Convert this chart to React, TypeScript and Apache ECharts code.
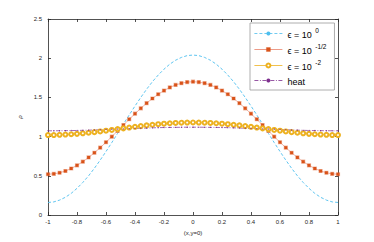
import React, { useEffect, useRef } from "react";
import * as echarts from "echarts";

const xs: number[] = Array.from({ length: 51 }, (_, i) => +(-1 + 0.04 * i).toFixed(2));

const halfEps0 = [0.16, 0.167, 0.19, 0.226, 0.276, 0.34, 0.415, 0.5, 0.596, 0.7, 0.81, 0.924, 1.041, 1.159, 1.276, 1.39, 1.5, 1.604, 1.7, 1.785, 1.86, 1.924, 1.974, 2.01, 2.033, 2.04];
const halfEpsHalf = [0.52, 0.525, 0.539, 0.561, 0.593, 0.633, 0.68, 0.734, 0.794, 0.859, 0.928, 0.999, 1.073, 1.147, 1.221, 1.292, 1.361, 1.426, 1.486, 1.54, 1.587, 1.627, 1.659, 1.681, 1.695, 1.7];
const halfEps2 = [1.02, 1.02, 1.023, 1.026, 1.03, 1.035, 1.042, 1.049, 1.057, 1.066, 1.075, 1.085, 1.095, 1.105, 1.115, 1.125, 1.134, 1.143, 1.151, 1.158, 1.165, 1.17, 1.174, 1.177, 1.179, 1.18];
const halfHeat = [1.074, 1.074, 1.075, 1.076, 1.077, 1.078, 1.08, 1.082, 1.085, 1.087, 1.09, 1.093, 1.096, 1.098, 1.101, 1.104, 1.107, 1.109, 1.112, 1.114, 1.116, 1.117, 1.118, 1.119, 1.12, 1.12];

const mirror = (h: number[]) => h.concat(h.slice(0, h.length - 1).reverse());
const eps0 = mirror(halfEps0);
const epsHalf = mirror(halfEpsHalf);
const eps2 = mirror(halfEps2);
const heat = mirror(halfHeat);

const xTicks = [-1, -0.8, -0.6, -0.4, -0.2, 0, 0.2, 0.4, 0.6, 0.8, 1];
const yTicks = [0, 0.5, 1, 1.5, 2, 2.5];

const legendNames: Record<string, string> = {
  e0: "{b|ϵ = 10}{s|  0}",
  eh: "{b|ϵ = 10}{s|  -1/2}",
  e2: "{b|ϵ = 10}{s|  -2}",
  heat: "{b|heat}",
};

export default function App() {
  const ref = useRef<HTMLDivElement>(null);
  useEffect(() => {
    const chart = echarts.init(ref.current!, null, { renderer: "svg" });
    const pts = (ys: number[]) => xs.map((x, i) => [x, ys[i]]);
    const axisCol = "#262626";
    const font = "Liberation Sans";
    const axLine = { show: true, onZero: false, lineStyle: { color: axisCol, width: 0.8 } };
    const axTick = { show: true, inside: true, length: 3, lineStyle: { color: axisCol, width: 0.8 } };
    chart.setOption({
      animation: false,
      textStyle: { fontFamily: font },
      grid: { left: 48, right: 36, top: 19, bottom: 27 },
      xAxis: [
        {
          type: "value", min: -1, max: 1, interval: 0.2,
          axisLine: axLine, axisTick: axTick,
          axisLabel: { fontSize: 6, color: axisCol, margin: 4, formatter: (v: number) => (xTicks.includes(+v.toFixed(1)) ? String(+v.toFixed(1)) : "") },
          splitLine: { show: false },
          name: "(x,y=0)", nameLocation: "middle", nameGap: 14,
          nameTextStyle: { fontSize: 6, color: axisCol },
        },
        {
          type: "value", min: -1, max: 1, interval: 0.2, position: "top",
          axisLine: axLine, axisTick: axTick,
          axisLabel: { show: false }, splitLine: { show: false },
        },
      ],
      yAxis: [
        {
          type: "value", min: 0, max: 2.5, interval: 0.5,
          axisLine: axLine, axisTick: axTick,
          axisLabel: { fontSize: 6, color: axisCol, margin: 6, formatter: (v: number) => (yTicks.includes(+v.toFixed(1)) ? String(+v.toFixed(1)) : "") },
          splitLine: { show: false },
          name: "ρ", nameLocation: "middle", nameGap: 10,
          nameTextStyle: { fontSize: 6, color: axisCol, fontStyle: "italic" },
        },
        {
          type: "value", min: 0, max: 2.5, interval: 0.5, position: "right",
          axisLine: axLine, axisTick: axTick,
          axisLabel: { show: false }, splitLine: { show: false },
        },
      ],
      legend: {
        left: 250, top: 23, orient: "vertical", itemGap: 3,
        itemWidth: 28, itemHeight: 5,
        backgroundColor: "#fff", borderColor: "#999", borderWidth: 0.8,
        padding: [4, 8, 4, 4],
        lineStyle: { width: 0.8 },
        itemStyle: { borderWidth: 0.8 },
        formatter: (n: string) => legendNames[n],
        textStyle: {
          fontSize: 9, color: "#000", fontFamily: font,
          rich: {
            b: { fontSize: 9, lineHeight: 11, padding: [2, 0, 0, 0] },
            s: { fontSize: 6.5, lineHeight: 11, padding: [0, 0, 6, 0] },
          },
        },
      },
      series: [
        {
          name: "e0", type: "line", data: pts(eps0), showSymbol: false, symbol: "none",
          lineStyle: { color: "#4DBEEE", width: 0.9, type: [3, 2] }, itemStyle: { color: "#4DBEEE" },
        },
        {
          name: "eh", type: "line", data: pts(epsHalf), symbol: "rect", symbolSize: 3,
          lineStyle: { color: "#E8826A", width: 0.6 },
          itemStyle: { color: "#D95319", borderColor: "rgba(217,83,25,0.4)", borderWidth: 1.2 },
        },
        {
          name: "e2", type: "line", data: pts(eps2), symbol: "emptyCircle", symbolSize: 4,
          lineStyle: { color: "#EDB120", width: 0.6 },
          itemStyle: { color: "#EDB120", borderColor: "#EDB120", borderWidth: 0.7 },
        },
        {
          name: "heat", type: "line", data: pts(heat), symbol: "circle", symbolSize: 1.2,
          lineStyle: { color: "#7E2F8E", width: 0.7, type: [4, 1.5, 1, 1.5] },
          itemStyle: { color: "#7E2F8E" },
        },
      ],
    });
    return () => chart.dispose();
  }, []);
  return <div ref={ref} style={{ width: 374, height: 242, position: "absolute", left: 0, top: 0 }} />;
}
